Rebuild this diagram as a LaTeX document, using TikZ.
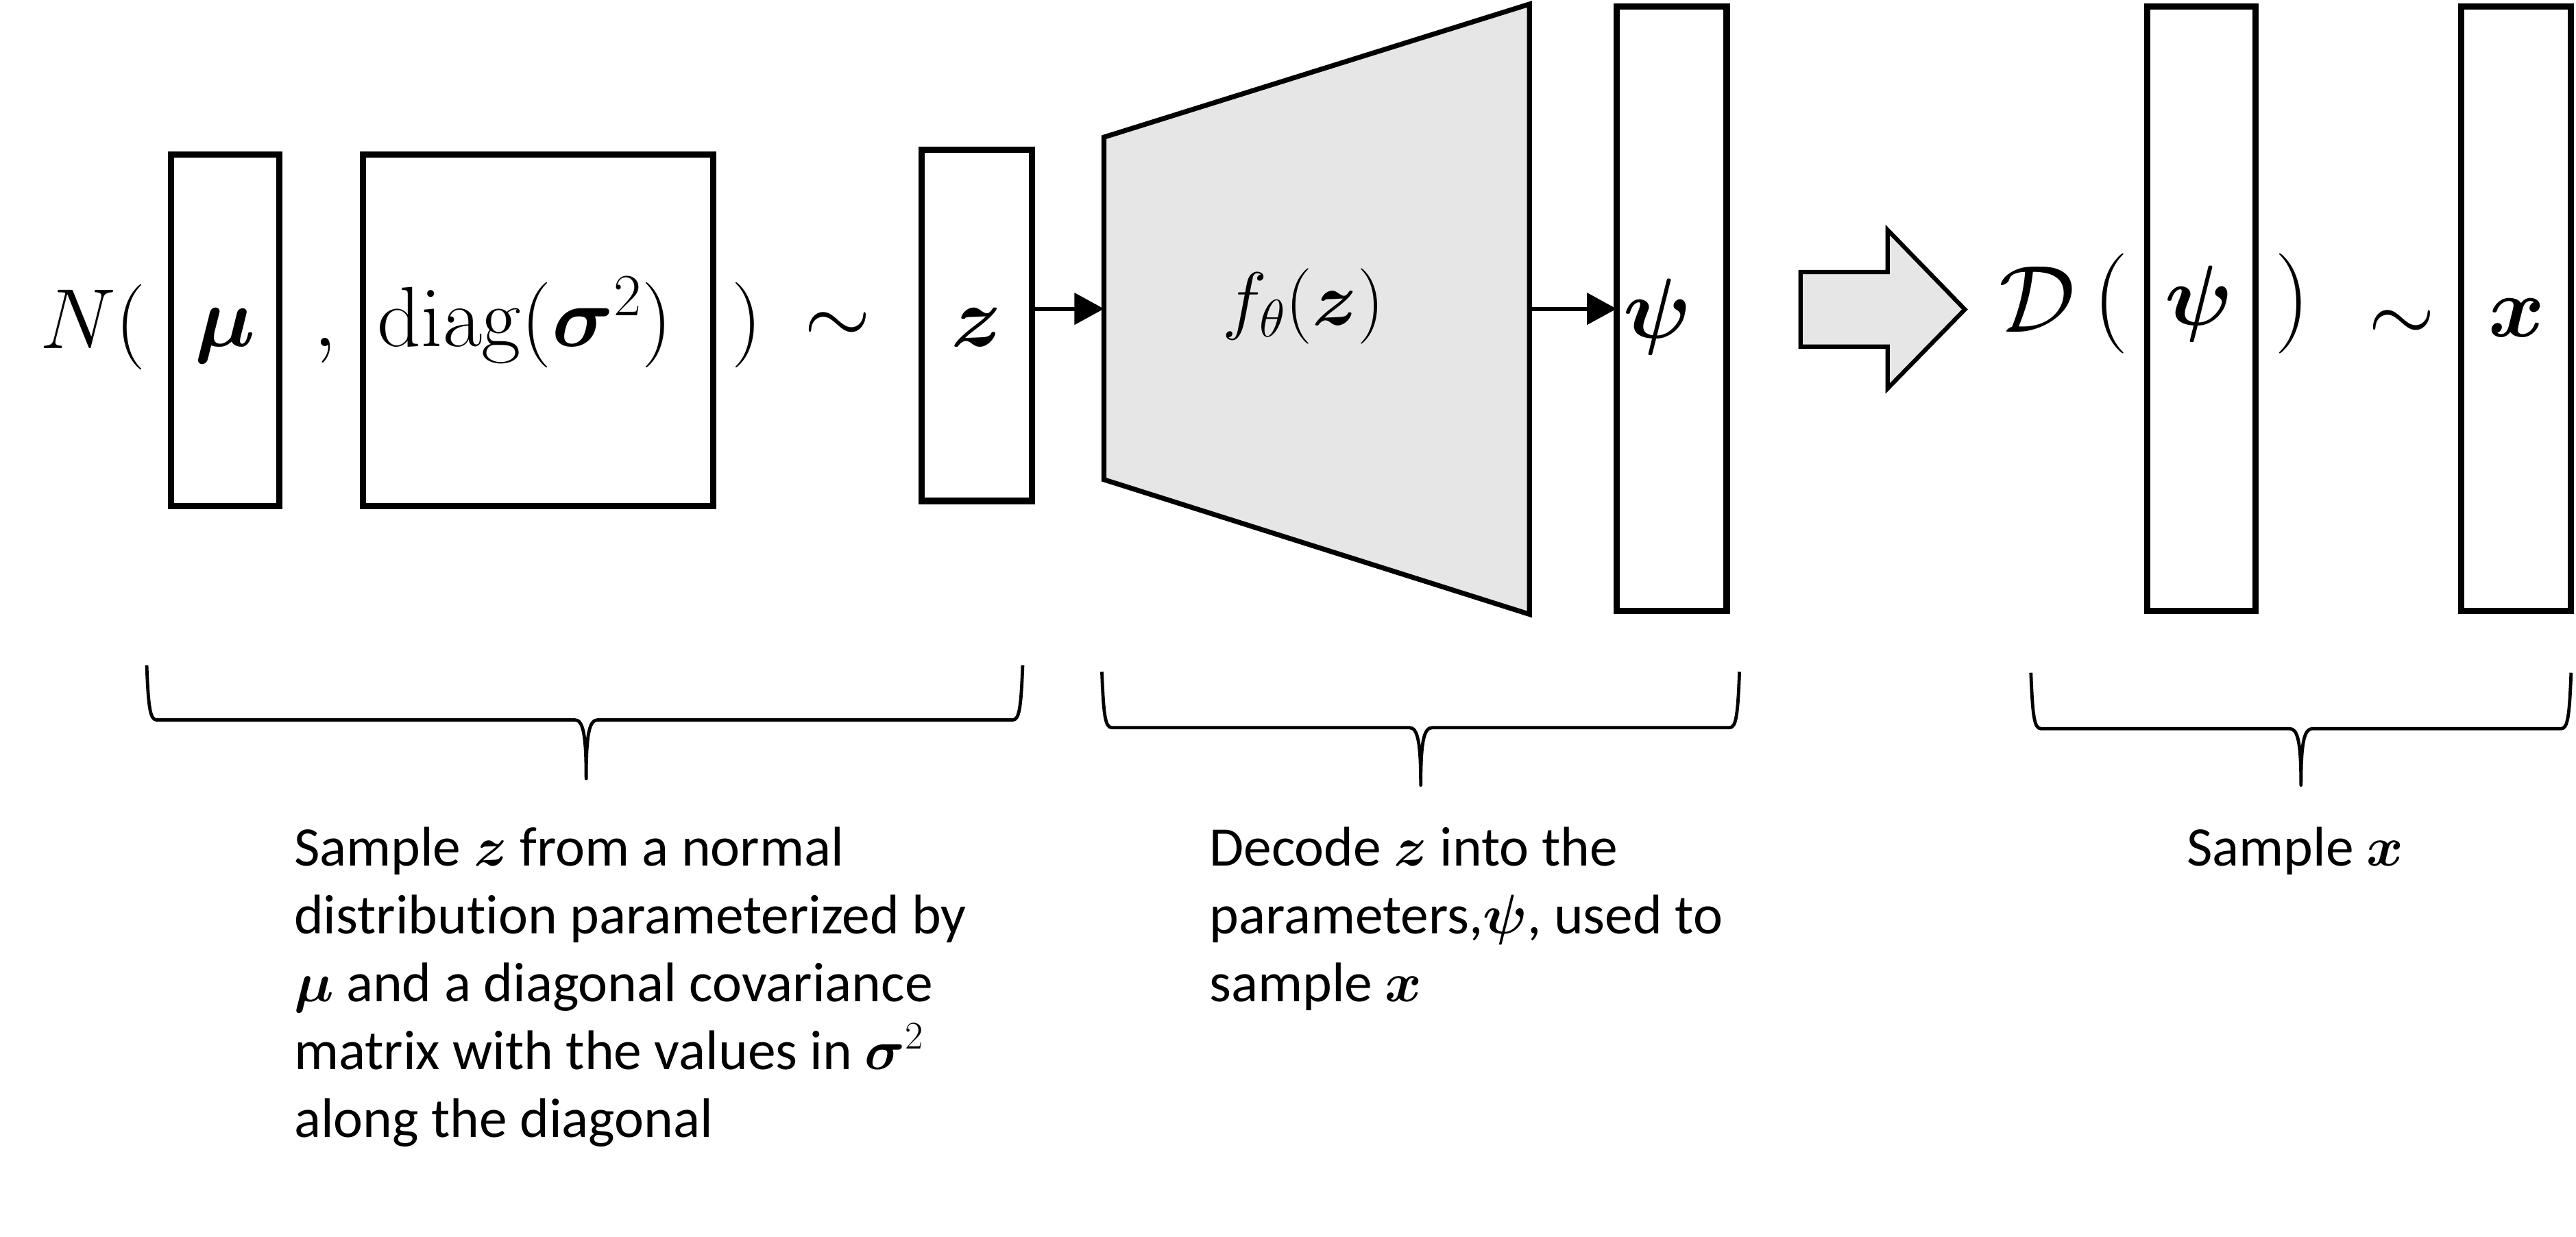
\documentclass[tikz,border=0pt]{standalone}
\usepackage{fix-cm}
\usepackage{amsmath}
\usepackage[no-math]{fontspec}
\setmainfont{Carlito}[Ligatures=NoCommon]
\usetikzlibrary{arrows.meta}
\definecolor{lgray}{RGB}{231,230,230}
\tikzset{
  vbox/.style={draw, line width=3.8pt, inner sep=0pt, outer sep=0pt},
  mlab/.style={inner sep=0pt, anchor=base, font=\fontsize{52}{60}\selectfont},
  desc/.style={inner sep=0pt, anchor=base west, align=left, font=\fontsize{34}{41.3}\selectfont},
  arr/.style={line width=2.5pt, -{Triangle[length=18pt,width=19pt]}},
  bracestyle/.style={line width=2pt, line join=round},
}
% x1, x2, ytop, yline, xtip, ytip
\newcommand{\mybrace}[6]{%
  \draw[bracestyle] (#1,#3) .. controls (#1+1,#4-8) and (#1+2,#4) .. (#1+6,#4)
    -- (#5-7,#4) .. controls (#5-2,#4) and (#5,#4+8) .. (#5,#6)
    .. controls (#5,#4+8) and (#5+2,#4) .. (#5+7,#4)
    -- (#2-6,#4) .. controls (#2-2,#4) and (#2-1,#4-8) .. (#2,#3);}
\begin{document}
\begin{tikzpicture}[x=1pt, y=-1pt]
\useasboundingbox (0,0) rectangle (1568,753.1);

% ---- boxes ----
\node[vbox, minimum width=66pt, minimum height=214pt] (mubox) at (137,201) {};
\node[vbox, minimum width=213pt, minimum height=214pt] (diagbox) at (327.5,201) {};
\node[vbox, minimum width=67pt, minimum height=214pt] (zbox) at (594.5,198) {};
\node[vbox, minimum width=67pt, minimum height=368pt] (psibox) at (1017.5,188) {};
\node[vbox, minimum width=66pt, minimum height=368pt] (psibox2) at (1340,188) {};
\node[vbox, minimum width=67pt, minimum height=368pt] (xbox) at (1531.5,188) {};

% ---- decoder trapezoid ----
\coordinate (tl) at (672,83.5);
\coordinate (tr) at (931,2.5);
\coordinate (br) at (931,374);
\coordinate (bl) at (672,292);
\draw[line width=3pt, fill=lgray] (tl) -- (tr) -- (br) -- (bl) -- cycle;
\coordinate (trapin) at (672,188);
\coordinate (trapout) at (931,188);

% ---- math labels ----
\node[mlab, anchor=base west] (Nlab) at (24,212) {$N($};
\node[mlab] (mulab) at (137,211) {$\boldsymbol{\mu}$};
\node[mlab] (comma) at (198,211) {$,$};
\node[mlab] (diaglab) at (319.5,211) {$\mathrm{diag}(\boldsymbol{\sigma}^2)$};
\node[mlab] (rpar1) at (454.5,211) {$)$};
\node[mlab, anchor=center] (sim1) at (510,199.5) {$\sim$};
\node[mlab] (zlab) at (594.5,211) {$\boldsymbol{z}$};
\node[mlab, font=\fontsize{46}{52}\selectfont] (flab) at (793.5,198) {$f_\theta(\boldsymbol{z})$};
\node[mlab] (psilab) at (1009,206) {$\boldsymbol{\psi}$};
\node[mlab, font=\fontsize{58}{64}\selectfont] (Dlab) at (1240,202) {$\mathcal{D}$};
\node[mlab, font=\fontsize{61}{66}\selectfont] (lpar2) at (1285,200) {$($};
\node[mlab] (psilab2) at (1338.5,198) {$\boldsymbol{\psi}$};
\node[mlab, font=\fontsize{61}{66}\selectfont] (rpar2) at (1395.5,200) {$)$};
\node[mlab, anchor=center] (sim2) at (1462,198.5) {$\sim$};
\node[mlab] (xlab) at (1532,205) {$\boldsymbol{x}$};

% ---- arrows ----
\draw[arr] (zbox.east |- trapin) -- (trapin);
\draw[arr] (trapout) -- (psibox.west |- trapout);
\draw[line width=2.6pt, fill=lgray, line join=miter]
  (1096,165.6) -- (1149,165.6) -- (1149,140) -- (1196,188.4)
  -- (1149,236.5) -- (1149,211) -- (1096,211) -- cycle;

% ---- braces ----
\mybrace{89.3}{622.5}{405}{438.3}{356.8}{474}
\mybrace{670.7}{1058.8}{409}{443}{864.8}{478}
\mybrace{1236.2}{1565}{409.6}{443.6}{1400.6}{478}

% ---- descriptions (anchor = baseline of last line) ----
\node[desc] (t1) at (178.8,692.2) {Sample $\boldsymbol{z}$ from a normal\\distribution parameterized by\\$\boldsymbol{\mu}$ and a diagonal covariance\\matrix with the values in $\boldsymbol{\sigma}^2$\\along the diagonal};
\node[desc] (t2) at (736,609.6) {Decode $\boldsymbol{z}$ into the\\parameters,$\boldsymbol{\psi}$, used to\\sample $\boldsymbol{x}$};
\node[desc, anchor=base] (t3) at (1397,527) {Sample $\boldsymbol{x}$};
\end{tikzpicture}
\end{document}
